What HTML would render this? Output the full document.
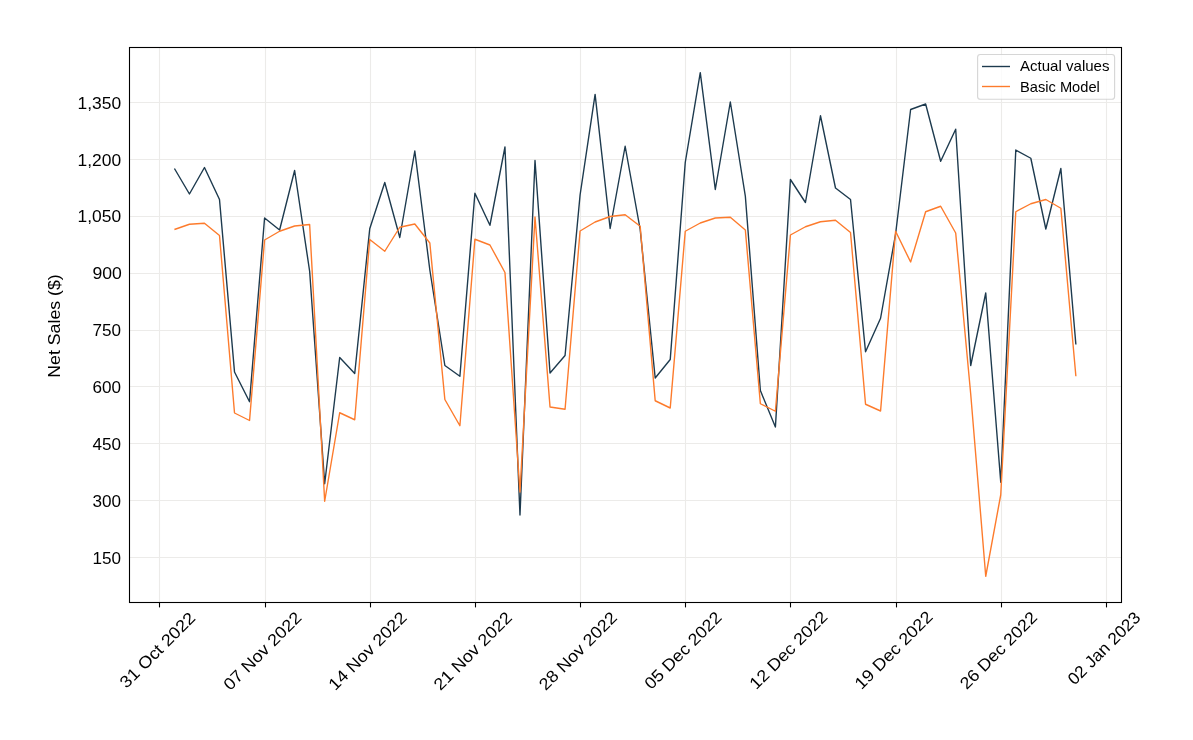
<!DOCTYPE html>
<html><head><meta charset="utf-8"><title>Net Sales</title>
<style>html,body{margin:0;padding:0;background:#fff;}body{width:1193px;height:740px;overflow:hidden;font-family:"Liberation Sans",sans-serif;}svg{display:block;will-change:transform;}text{font-family:"Liberation Sans",sans-serif;fill:#000;}</style></head><body>
<svg width="1193" height="740" viewBox="0 0 1193 740">
<rect x="0" y="0" width="1193" height="740" fill="#ffffff"/>
<g stroke="#ecebe9" stroke-width="1.1" fill="none">
<line x1="159.50" y1="47.5" x2="159.50" y2="602.5"/>
<line x1="265.50" y1="47.5" x2="265.50" y2="602.5"/>
<line x1="370.50" y1="47.5" x2="370.50" y2="602.5"/>
<line x1="475.50" y1="47.5" x2="475.50" y2="602.5"/>
<line x1="580.50" y1="47.5" x2="580.50" y2="602.5"/>
<line x1="685.50" y1="47.5" x2="685.50" y2="602.5"/>
<line x1="790.50" y1="47.5" x2="790.50" y2="602.5"/>
<line x1="896.50" y1="47.5" x2="896.50" y2="602.5"/>
<line x1="1001.50" y1="47.5" x2="1001.50" y2="602.5"/>
<line x1="1106.50" y1="47.5" x2="1106.50" y2="602.5"/>
<line x1="129.5" y1="557.50" x2="1121.5" y2="557.50"/>
<line x1="129.5" y1="500.50" x2="1121.5" y2="500.50"/>
<line x1="129.5" y1="443.50" x2="1121.5" y2="443.50"/>
<line x1="129.5" y1="386.50" x2="1121.5" y2="386.50"/>
<line x1="129.5" y1="330.50" x2="1121.5" y2="330.50"/>
<line x1="129.5" y1="273.50" x2="1121.5" y2="273.50"/>
<line x1="129.5" y1="216.50" x2="1121.5" y2="216.50"/>
<line x1="129.5" y1="159.50" x2="1121.5" y2="159.50"/>
<line x1="129.5" y1="102.50" x2="1121.5" y2="102.50"/>
</g>
<polyline points="174.42,168.50 189.45,194.00 204.47,167.50 219.50,199.50 234.52,372.00 249.55,401.75 264.57,218.00 279.59,230.00 294.62,170.50 309.64,271.25 324.67,483.75 339.69,357.50 354.72,373.50 369.74,228.75 384.76,182.50 399.79,237.50 414.81,151.00 429.84,270.00 444.86,365.50 459.89,376.25 474.91,193.25 489.93,225.25 504.96,147.00 519.98,515.00 535.01,160.50 550.03,373.00 565.06,355.50 580.08,195.00 595.10,94.40 610.13,228.50 625.15,146.25 640.18,229.50 655.20,378.00 670.23,359.50 685.25,162.50 700.27,72.60 715.30,189.50 730.32,102.00 745.35,196.25 760.37,390.50 775.40,427.00 790.42,179.50 805.44,202.50 820.47,115.75 835.49,188.00 850.52,199.50 865.54,351.75 880.57,318.25 895.59,234.00 910.62,109.50 925.64,104.00 940.66,161.25 955.69,129.25 970.71,365.50 985.74,293.00 1000.76,482.25 1015.79,150.00 1030.81,158.25 1045.83,229.00 1060.86,168.50 1075.88,344.50" fill="none" stroke="#1d3a4e" stroke-width="1.39" stroke-linejoin="round" stroke-linecap="butt"/>
<polyline points="174.42,229.50 189.45,224.25 204.47,223.25 219.50,235.50 234.52,413.00 249.55,420.50 264.57,240.00 279.59,231.25 294.62,226.00 309.64,224.50 324.67,501.25 339.69,412.75 354.72,419.75 369.74,239.50 384.76,251.25 399.79,227.25 414.81,224.00 429.84,243.00 444.86,399.50 459.89,425.75 474.91,239.25 489.93,245.00 504.96,272.50 519.98,492.00 535.01,217.00 550.03,407.00 565.06,409.25 580.08,231.00 595.10,222.00 610.13,216.50 625.15,214.75 640.18,226.25 655.20,400.75 670.23,408.00 685.25,231.25 700.27,223.00 715.30,218.00 730.32,217.25 745.35,230.00 760.37,403.75 775.40,411.25 790.42,235.00 805.44,226.75 820.47,221.75 835.49,220.25 850.52,232.50 865.54,404.25 880.57,411.00 895.59,231.25 910.62,262.00 925.64,211.75 940.66,206.25 955.69,233.00 970.71,394.00 985.74,576.25 1000.76,494.75 1015.79,211.75 1030.81,203.75 1045.83,199.50 1060.86,208.25 1075.88,376.25" fill="none" stroke="#fd7b2c" stroke-width="1.39" stroke-linejoin="round" stroke-linecap="butt"/>
<rect x="129.5" y="47.5" width="992.0" height="555.0" fill="none" stroke="#000" stroke-width="1.1"/>
<g stroke="#000" stroke-width="1.1">
<line x1="159.50" y1="602.5" x2="159.50" y2="607.4"/>
<line x1="265.50" y1="602.5" x2="265.50" y2="607.4"/>
<line x1="370.50" y1="602.5" x2="370.50" y2="607.4"/>
<line x1="475.50" y1="602.5" x2="475.50" y2="607.4"/>
<line x1="580.50" y1="602.5" x2="580.50" y2="607.4"/>
<line x1="685.50" y1="602.5" x2="685.50" y2="607.4"/>
<line x1="790.50" y1="602.5" x2="790.50" y2="607.4"/>
<line x1="896.50" y1="602.5" x2="896.50" y2="607.4"/>
<line x1="1001.50" y1="602.5" x2="1001.50" y2="607.4"/>
<line x1="1106.50" y1="602.5" x2="1106.50" y2="607.4"/>
</g>
<text x="121.2" y="109.00" font-size="16.76" text-anchor="end" textLength="43.6" lengthAdjust="spacingAndGlyphs">1,350</text>
<text x="121.2" y="166.00" font-size="16.76" text-anchor="end" textLength="43.6" lengthAdjust="spacingAndGlyphs">1,200</text>
<text x="121.2" y="222.00" font-size="16.76" text-anchor="end" textLength="43.6" lengthAdjust="spacingAndGlyphs">1,050</text>
<text x="121.9" y="279.00" font-size="16.76" text-anchor="end" textLength="29.4" lengthAdjust="spacingAndGlyphs">900</text>
<text x="121.05" y="336.00" font-size="16.76" text-anchor="end" textLength="28.55" lengthAdjust="spacingAndGlyphs">750</text>
<text x="121.05" y="393.00" font-size="16.76" text-anchor="end" textLength="28.55" lengthAdjust="spacingAndGlyphs">600</text>
<text x="121.05" y="450.00" font-size="16.76" text-anchor="end" textLength="28.55" lengthAdjust="spacingAndGlyphs">450</text>
<text x="121.05" y="507.00" font-size="16.76" text-anchor="end" textLength="28.55" lengthAdjust="spacingAndGlyphs">300</text>
<text x="121.05" y="564.00" font-size="16.76" text-anchor="end" textLength="28.55" lengthAdjust="spacingAndGlyphs">150</text>
<text x="0" y="0" font-size="16.76" text-anchor="middle" textLength="103.5" lengthAdjust="spacingAndGlyphs" transform="translate(60.3 326) rotate(-90)">Net Sales ($)</text>
<text x="0" y="6" font-size="16.76" text-anchor="middle" textLength="98.9" lengthAdjust="spacingAndGlyphs" transform="translate(157.30 649.73) rotate(-45)">31 Oct 2022</text>
<text x="0" y="6" font-size="16.76" text-anchor="middle" textLength="102.5" lengthAdjust="spacingAndGlyphs" transform="translate(262.17 650.70) rotate(-45)">07 Nov 2022</text>
<text x="0" y="6" font-size="16.76" text-anchor="middle" textLength="102.5" lengthAdjust="spacingAndGlyphs" transform="translate(367.34 650.70) rotate(-45)">14 Nov 2022</text>
<text x="0" y="6" font-size="16.76" text-anchor="middle" textLength="102.5" lengthAdjust="spacingAndGlyphs" transform="translate(472.51 650.70) rotate(-45)">21 Nov 2022</text>
<text x="0" y="6" font-size="16.76" text-anchor="middle" textLength="102.5" lengthAdjust="spacingAndGlyphs" transform="translate(577.68 650.70) rotate(-45)">28 Nov 2022</text>
<text x="0" y="6" font-size="16.76" text-anchor="middle" textLength="101.3" lengthAdjust="spacingAndGlyphs" transform="translate(682.75 650.17) rotate(-45)">05 Dec 2022</text>
<text x="0" y="6" font-size="16.76" text-anchor="middle" textLength="102.15" lengthAdjust="spacingAndGlyphs" transform="translate(788.22 649.87) rotate(-45)">12 Dec 2022</text>
<text x="0" y="6" font-size="16.76" text-anchor="middle" textLength="102.15" lengthAdjust="spacingAndGlyphs" transform="translate(893.39 649.87) rotate(-45)">19 Dec 2022</text>
<text x="0" y="6" font-size="16.76" text-anchor="middle" textLength="101.3" lengthAdjust="spacingAndGlyphs" transform="translate(998.26 650.17) rotate(-45)">26 Dec 2022</text>
<text x="0" y="6" font-size="16.76" text-anchor="middle" textLength="95.0" lengthAdjust="spacingAndGlyphs" transform="translate(1103.83 647.95) rotate(-45)">02 Jan 2023</text>
<rect x="977.6" y="54.5" width="137" height="44.8" rx="2.8" ry="2.8" fill="#ffffff" fill-opacity="0.8" stroke="#cccccc" stroke-opacity="0.8" stroke-width="1.1"/>
<line x1="982" y1="66.5" x2="1010" y2="66.5" stroke="#1d3a4e" stroke-width="1.39"/>
<line x1="982" y1="86.5" x2="1010" y2="86.5" stroke="#fd7b2c" stroke-width="1.39"/>
<text x="1020" y="71" font-size="13.9" textLength="89.5" lengthAdjust="spacingAndGlyphs">Actual values</text>
<text x="1020" y="92" font-size="13.9" textLength="79.8" lengthAdjust="spacingAndGlyphs">Basic Model</text>
</svg></body></html>
